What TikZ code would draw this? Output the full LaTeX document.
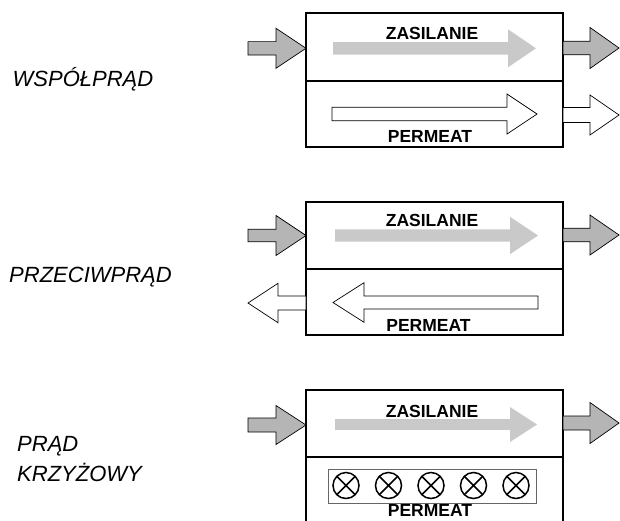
\documentclass[tikz,border=0pt]{standalone}
\usepackage{fontspec}
\setmainfont{Liberation Sans}

\definecolor{feedgray}{gray}{0.71}
\definecolor{feedlight}{gray}{0.79}
\definecolor{framegray}{gray}{0.40}

% block arrow: [style] tail x, axis y, head x, tip x, half shaft, half head
\newcommand{\blockarrow}[7][]{%
  \draw[#1] (#2,#3-#6) -- (#4,#3-#6) -- (#4,#3-#7) -- (#5,#3)
    -- (#4,#3+#7) -- (#4,#3+#6) -- (#2,#3+#6) -- cycle;}

\tikzset{
  module/.style={line width=1.5pt},
  feedport/.style={fill=feedgray, draw=black, line width=0.7pt},
  feedflow/.style={fill=feedlight, draw=none},
  permflow/.style={fill=white, draw=black, line width=0.7pt},
  streamlabel/.style={font=\fontsize{17.5}{20}\selectfont\bfseries,
    anchor=base, inner sep=0pt},
  modelabel/.style={font=\fontsize{22}{26}\selectfont\itshape,
    anchor=base west, inner sep=0pt},
  crossflow/.style={line width=1.5pt}
}

\begin{document}
\begin{tikzpicture}[x=1pt, y=-1pt]
    \useasboundingbox (0,0) rectangle (620,520);

    % cocurrent
    \draw[module] (306,13) rectangle (563,147);
    \draw[module] (306,81) -- (563,81);
    \blockarrow[feedport]{248}{48.3}{276}{306}{6.7}{20}
    \blockarrow[feedflow]{333}{48.3}{508}{536}{6.3}{19}
    \blockarrow[feedport]{563}{48}{590}{619}{6.8}{20.5}
    \blockarrow[permflow]{332}{114}{507}{537}{6.7}{20}
    \blockarrow[permflow]{563}{115}{590}{619}{7.5}{20}
    \node[streamlabel] (zas1) at (432,39.3) {ZASILANIE};
    \node[streamlabel] (perm1) at (430,142.7) {PERMEAT};
    \node[modelabel] (cocurrent) at (12.5,86) {WSPÓŁPRĄD};

    % countercurrent
    \draw[module] (306,202) rectangle (563,335);
    \draw[module] (306,269) -- (563,269);
    \blockarrow[feedport]{248}{235.5}{276}{306}{6.2}{20}
    \blockarrow[feedflow]{335}{235.5}{510}{538}{6.2}{18.7}
    \blockarrow[feedport]{563}{235}{590}{619}{6.8}{20}
    \blockarrow[permflow]{538}{302.5}{364}{333}{6.5}{19.8}
    \blockarrow[permflow]{306}{303}{278}{248}{7}{19.7}
    \node[streamlabel] (zas2) at (432,226) {ZASILANIE};
    \node[streamlabel] (perm2) at (428.5,331.7) {PERMEAT};
    \node[modelabel] (countercurrent) at (9,282) {PRZECIWPRĄD};

    % cross flow
    \draw[module] (306,522) |- (563,390) -- (563,522);
    \draw[module] (306,457) -- (563,457);
    \blockarrow[feedport]{248}{425}{276}{306}{7}{19.5}
    \blockarrow[feedflow]{335}{424.5}{510}{537}{5.3}{17.5}
    \blockarrow[feedport]{563}{423}{590}{619}{7}{20.5}
    \draw[framegray, line width=0.8pt] (328.5,469) rectangle (536.5,503.5);
    \foreach \cx in {346,388.5,431,473.5,516} {
        \draw[crossflow] (\cx,485.5) circle (13pt);
        \draw[crossflow] (\cx,485.5) +(45:13pt) -- +(225:13pt)
            (\cx,485.5) +(135:13pt) -- +(315:13pt);
    }
    \node[streamlabel] (zas3) at (432,417.7) {ZASILANIE};
    \node[streamlabel] (perm3) at (430,516.5) {PERMEAT};
    \node[modelabel] (crossflow1) at (17,451.7) {PRĄD};
    \node[modelabel] (crossflow2) at (17,481.7) {KRZYŻOWY};
\end{tikzpicture}
\end{document}
